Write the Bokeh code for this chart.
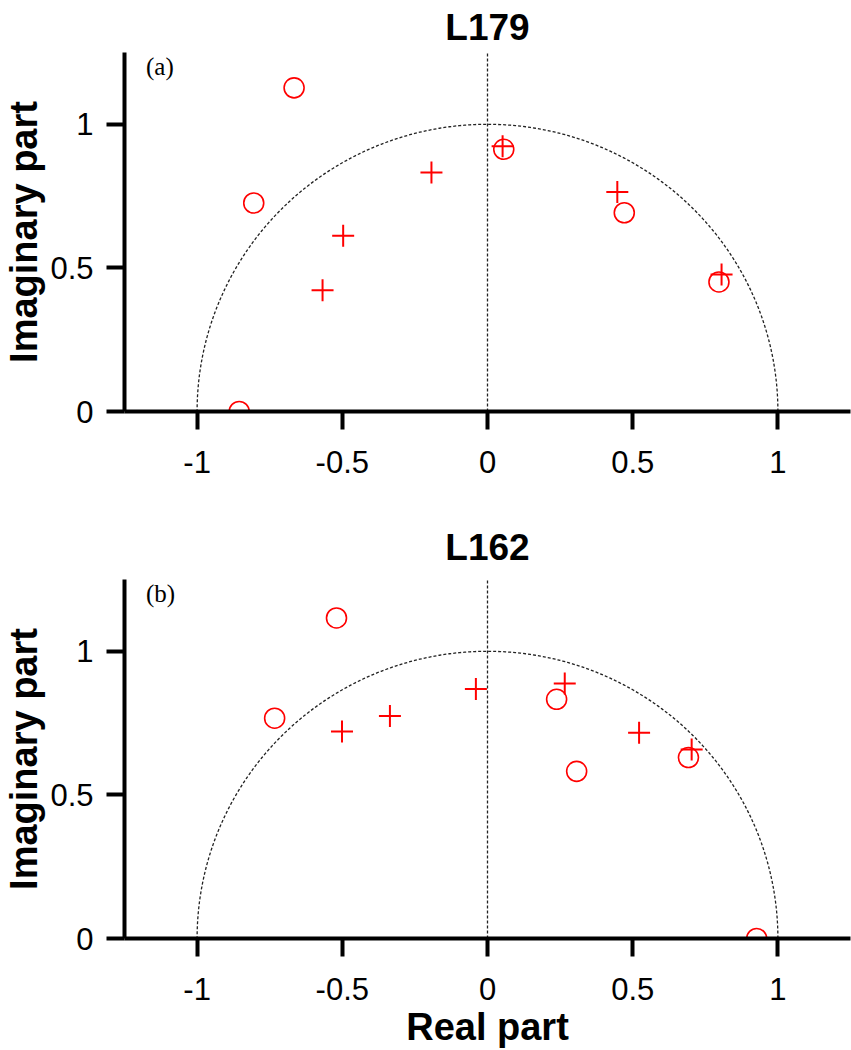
import numpy as np
from bokeh.plotting import figure
from bokeh.layouts import column
from bokeh.models import Label, FixedTicker, NumeralTickFormatter, Range1d
from bokeh.embed import file_html
from bokeh.resources import INLINE

# ---------------- data ----------------
titles = ["L179", "L162"]
panel_tags = ["(a)", "(b)"]
x_ticks = [-1, -0.5, 0, 0.5, 1]
y_ticks = [0, 0.5, 1]
x_label = "Real part"
y_label = "Imaginary part"

# panel (a)  L179
a_circle_re = [-0.666, -0.805, -0.855, 0.056, 0.471, 0.797]
a_circle_im = [1.127, 0.726, 0.0, 0.913, 0.692, 0.451]
a_cross_re = [-0.568, -0.497, -0.193, 0.052, 0.447, 0.806]
a_cross_im = [0.422, 0.612, 0.832, 0.924, 0.764, 0.477]

# panel (b)  L162
b_circle_re = [-0.733, -0.520, 0.238, 0.307, 0.692, 0.927]
b_circle_im = [0.767, 1.116, 0.833, 0.582, 0.630, 0.0]
b_cross_re = [-0.501, -0.336, -0.040, 0.266, 0.522, 0.703]
b_cross_im = [0.721, 0.775, 0.869, 0.888, 0.716, 0.658]

# guides: unit circle (upper half) and the imaginary axis
theta = np.linspace(0, np.pi, 361)
unit_re = np.cos(theta)
unit_im = np.sin(theta)
imag_axis_re = [0, 0]
imag_axis_im = [0, 1.25]

FONT = "Liberation Sans"


def make_panel(title, tag, cre, cim, xre, xim, b_top, b_bottom, t_standoff,
               xlabel=None):
    p = figure(frame_width=726, frame_height=359,
               x_range=Range1d(-1.25, 1.25), y_range=Range1d(0, 1.25),
               output_backend="svg", toolbar_location=None,
               min_border_left=116, min_border_right=1,
               min_border_top=b_top, min_border_bottom=b_bottom,
               title=title)
    p.title.align = "center"
    p.title.text_font = FONT
    p.title.text_font_size = "37px"
    p.title.text_font_style = "bold"
    p.title.text_color = "black"
    p.title.text_line_height = 1.0
    p.title.standoff = t_standoff
    p.grid.visible = False
    p.outline_line_color = None
    p.background_fill_color = "white"
    p.border_fill_color = "white"

    for ax in (p.xaxis[0], p.yaxis[0]):
        ax.axis_line_width = 4
        ax.axis_line_color = "black"
        ax.major_tick_line_width = 4
        ax.major_tick_line_color = "black"
        ax.major_tick_out = 18
        ax.major_tick_in = 0
        ax.minor_tick_line_color = None
        ax.major_label_text_font = FONT
        ax.major_label_text_font_size = "31px"
        ax.major_label_text_color = "black"
        ax.major_label_text_line_height = 1.0
        ax.formatter = NumeralTickFormatter(format="0.[0]")
        ax.axis_label_text_font = FONT
        ax.axis_label_text_font_size = "38px"
        ax.axis_label_text_font_style = "bold"
        ax.axis_label_text_color = "black"
        ax.axis_label_text_line_height = 1.0

    p.xaxis.ticker = FixedTicker(ticks=x_ticks)
    p.yaxis.ticker = FixedTicker(ticks=y_ticks)
    p.xaxis.major_label_standoff = 21
    p.yaxis.major_label_standoff = 13
    p.yaxis.axis_label = y_label
    p.yaxis.axis_label_standoff = 2
    if xlabel:
        p.xaxis.axis_label = xlabel
        p.xaxis.axis_label_standoff = 3

    # guides
    p.line(unit_re, unit_im, line_color="#222222", line_width=1.3, line_dash="3 2")
    p.line(imag_axis_re, imag_axis_im, line_color="#222222", line_width=1.3,
           line_dash="3 2")

    # markers
    p.scatter(cre, cim, marker="circle", size=20, fill_color=None,
              line_color="#ff0000", line_width=1.6)
    p.scatter(xre, xim, marker="cross", size=22, line_color="#ff0000", line_width=2)

    p.add_layout(Label(x=-1.176, y=1.25, text=tag, text_baseline="top",
                       text_font="Liberation Serif", text_font_size="25px",
                       text_color="black"))
    return p


p1 = make_panel(titles[0], panel_tags[0], a_circle_re, a_circle_im,
                a_cross_re, a_cross_im, 44, 80, 9)
p2 = make_panel(titles[1], panel_tags[1], b_circle_re, b_circle_im,
                b_cross_re, b_cross_im, 88, 100, 24, xlabel=x_label)

layout = column(p1, p2, spacing=0)

open("out.html", "w").write(file_html(layout, INLINE))
